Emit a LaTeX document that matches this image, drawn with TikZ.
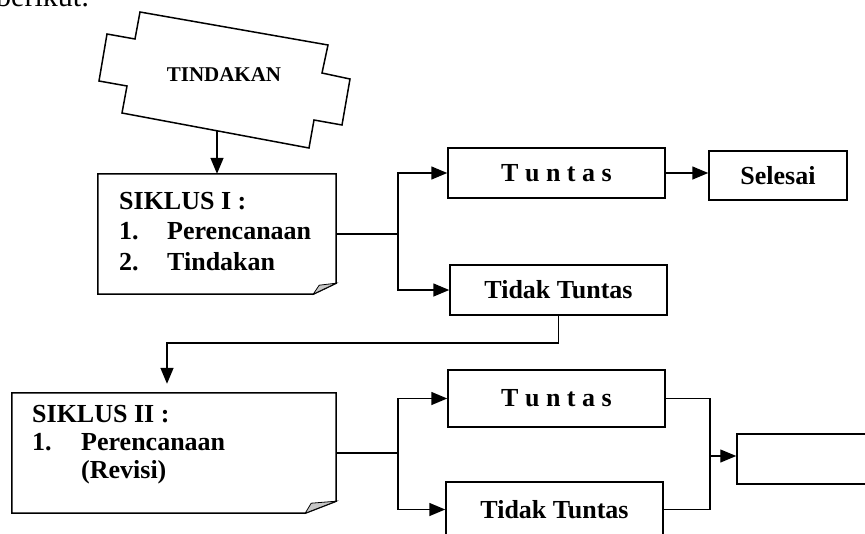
\documentclass[tikz,border=0pt]{standalone}
\usepackage{fontspec}
\setmainfont{Liberation Serif}
\usepackage{tikz}
\usetikzlibrary{arrows.meta}

\tikzset{
    kotak/.style={draw=black, line width=1.5pt, inner sep=0pt, font=\fontsize{26}{30}\selectfont\bfseries},
    lipat/.style={inner sep=0pt},
    isi/.style={align=left, inner sep=0pt, font=\fontsize{26}{30.5}\selectfont\bfseries},
    garis/.style={black, line width=1.5pt},
    tipis/.style={black, line width=1.2pt},
    panah/.style={black, line width=1.5pt, -{Triangle[length=16pt,width=13pt]}},
}

\begin{document}
\begin{tikzpicture}[x=1pt, y=-1pt]
            \useasboundingbox (0,0) rectangle (865,533);
            \clip (0,0) rectangle (865,533);

            \node[anchor=base west, inner sep=0pt, font=\fontsize{30}{36}\selectfont] (judul) at (-4,6) {berikut:};

            \draw[garis] (140,12) -- (328,45) -- (322,73) -- (350,79) -- (342,125) -- (314,120) -- (309,148)
                -- (122,113) -- (127,86) -- (99,81) -- (107,34) -- (135,39) -- cycle;
            \node[font=\fontsize{21}{25}\selectfont\bfseries] (tindakan) at (224,75) {TINDAKAN};
            \coordinate (bawah) at (217,131);

            \node[lipat, minimum width=238pt, minimum height=120pt] (siklus1) at (217,234) {};
            \draw[garis] (siklus1.north west) -- (siklus1.north east) -- ([yshift=11pt]siklus1.south east)
                -- ([xshift=-23pt]siklus1.south east) -- (siklus1.south west) -- cycle;
            \filldraw[fill=gray!45, draw=black, line width=0.8pt] ([xshift=-23pt]siklus1.south east)
                -- ([yshift=11pt]siklus1.south east) -- ([xshift=-17pt,yshift=9pt]siklus1.south east) -- cycle;
            \node[isi, anchor=north west] (isi1) at (119,192)
                {SIKLUS I :\\ \makebox[48pt][l]{1.}Perencanaan\\ \makebox[48pt][l]{2.}Tindakan};

            \node[kotak, minimum width=217pt, minimum height=50pt] (tuntas1) at (556.5,173) {T u n t a s};
            \node[kotak, minimum width=138pt, minimum height=49pt] (selesai) at (778,175.5) {Selesai};
            \node[kotak, minimum width=217pt, minimum height=50pt] (tidak1) at (558.5,290) {Tidak Tuntas};

            \node[lipat, minimum width=324pt, minimum height=120pt] (siklus2) at (174,453) {};
            \draw[garis] (siklus2.north west) -- (siklus2.north east) -- ([yshift=12pt]siklus2.south east)
                -- ([xshift=-31pt]siklus2.south east) -- (siklus2.south west) -- cycle;
            \filldraw[fill=gray!45, draw=black, line width=0.8pt] ([xshift=-31pt]siklus2.south east)
                -- ([yshift=12pt]siklus2.south east) -- ([xshift=-25pt,yshift=10pt]siklus2.south east) -- cycle;
            \node[isi, anchor=north west, font=\fontsize{26}{28}\selectfont\bfseries] (isi2) at (32,405)
                {SIKLUS II :\\ \makebox[49pt][l]{1.}Perencanaan\\ \makebox[49pt][l]{}(Revisi)};

            \node[kotak, minimum width=217pt, minimum height=57pt] (tuntas2) at (556.5,398.5) {T u n t a s};
            \node[kotak, minimum width=217pt, minimum height=55pt] (tidak2) at (554.5,509.5) {Tidak Tuntas};
            \node[kotak, minimum width=140pt, minimum height=50pt] (akhir) at (807,459) {};

            \coordinate (cabang1) at (398,234);
            \coordinate (balik) at (167,343);
            \coordinate (cabang2) at (398,453);
            \coordinate (gabung) at (710,456);

            \draw[panah] (bawah) -- (siklus1.north);
            \draw[garis] (siklus1.east) -- (cabang1);
            \draw[panah] (cabang1) |- (tuntas1.west);
            \draw[panah] (cabang1) |- (tidak1.west);
            \draw[panah] (tuntas1.east) -- (selesai.west |- tuntas1.east);
            \draw[panah, shorten >=9pt] (tidak1.south) |- (balik) -- (balik |- siklus2.north);

            \draw[garis] (siklus2.east) -- (cabang2);
            \draw[panah] (cabang2) |- (tuntas2.west);
            \draw[panah] (cabang2) |- (tidak2.west);
            \draw[tipis] (tuntas2.east) -| (gabung) |- (tidak2.east);
            \draw[tipis, -{Triangle[length=16pt,width=13pt]}] (gabung) -- (gabung -| akhir.west);
        \end{tikzpicture}
\end{document}
